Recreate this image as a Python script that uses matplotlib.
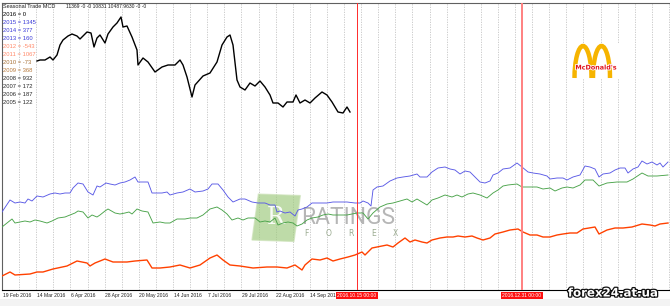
"""
Seasonal Trade MCD chart (MT4 style) redrawn with matplotlib.
"""
import matplotlib

matplotlib.use("Agg")
import matplotlib.pyplot as plt
from matplotlib import patheffects, transforms
from matplotlib.patches import Arc, Rectangle

W, H = 670, 306

# trading-day index (2 bars per grid step of 8.55 days) and seasonal index values
BLUE_DAY = [0, 4, 6.5, 9, 11.5, 13, 15, 17.5, 20.5, 24, 26.5, 29, 31.5, 34, 35.5, 38, 40.5, 43,
            45.5, 47.5, 49, 52, 54, 56.5, 59, 61.5, 64, 66.5, 68, 70.5, 73, 75, 77.5, 80, 82.5,
            84, 87.5, 90.5, 94, 96.5, 100.5, 103, 105, 108, 110.5, 113, 115.5, 119, 121.5, 125,
            128, 131.5, 134, 136.5, 137.5, 139, 141.5, 144, 146.5, 148, 150, 152.5, 155, 157.5,
            160, 162.5, 165.5, 169, 172.5, 176.5, 179, 180.5, 183, 184.5, 185.5, 187.5, 190.5,
            194, 197.5, 200.5, 204, 207.5, 209, 212.5, 215, 218, 221.5, 224, 226.5, 229, 231.5,
            234, 236.5, 239, 241.5, 244, 245.5, 248, 250.5, 254, 257.5, 260, 263, 265.5, 269,
            272.5, 274, 277.5, 280.5, 282.5, 285.5, 289, 291.5, 294, 296.5, 298.5, 300.5, 304,
            306.5, 309, 311.5, 313, 315.5, 318, 320, 322.5, 325, 327.5, 329, 330.5, 333]
BLUE_VAL = [78, 90, 87, 88, 87, 91, 89, 94, 93, 96, 97, 96, 97, 97, 102, 107, 106, 98, 95, 104,
            103, 107, 106, 105, 107, 108, 110, 113, 108, 108, 108, 97, 97, 97, 98, 95, 97, 98,
            101, 98, 99, 101, 106, 106, 100, 93, 88, 91, 91, 88, 87, 87, 85, 85, 78, 79, 77, 78,
            74, 80, 81, 83, 87, 87, 87, 87, 88, 88, 88, 87, 87, 89, 87, 84, 100, 103, 104, 109,
            112, 113, 114, 116, 113, 113, 118, 122, 123, 121, 120, 116, 119, 118, 113, 108, 107,
            109, 115, 117, 121, 122, 127, 123, 118, 117, 116, 114, 111, 112, 112, 110, 113, 115,
            124, 123, 121, 113, 116, 117, 120, 122, 122, 117, 121, 123, 129, 126, 128, 125, 127,
            123, 128]

GREEN_DAY = [0, 2.5, 5, 6.5, 9, 11.5, 14, 16.5, 19, 22.5, 25, 28, 31.5, 34, 36.5, 38, 40.5, 43,
             45, 47.5, 49, 51.5, 53, 56.5, 59, 61.5, 63.5, 65, 67.5, 70, 73, 75.5, 79, 81.5, 84,
             87.5, 91.5, 94, 97.5, 100.5, 104, 107.5, 110, 112.5, 115, 118, 120.5, 123, 126.5,
             129, 131.5, 134, 136.5, 138, 140.5, 143, 145.5, 147.5, 150, 152.5, 155, 158, 160.5,
             163, 165.5, 169, 172.5, 177.5, 180.5, 183, 185.5, 189, 192.5, 195.5, 199, 202.5,
             205, 207.5, 210, 212.5, 215, 218, 221.5, 225, 227.5, 230, 233, 235.5, 239, 242.5,
             245.5, 248, 250.5, 253, 257.5, 260, 264, 267.5, 270.5, 274, 276.5, 280, 282.5, 285.5,
             289, 291.5, 295.5, 298.5, 302.5, 307.5, 312.5, 315.5, 320, 323, 327.5, 333]
GREEN_VAL = [63, 67, 71, 67, 68, 69, 68, 70, 69, 67, 69, 72, 73, 75, 77, 79, 78, 72, 75, 73, 75,
             79, 81, 77, 76, 77, 78, 76, 81, 79, 78, 67, 68, 67, 67, 71, 71, 72, 72, 75, 81, 83,
             80, 76, 70, 72, 70, 72, 72, 68, 69, 68, 72, 65, 67, 68, 67, 64, 66, 70, 72, 73, 75,
             76, 75, 75, 75, 77, 77, 71, 77, 83, 86, 87, 89, 91, 88, 91, 88, 85, 90, 92, 95, 93,
             95, 93, 96, 97, 95, 92, 97, 100, 104, 105, 106, 103, 103, 103, 101, 102, 99, 102,
             103, 102, 105, 110, 110, 104, 107, 108, 108, 111, 117, 114, 114, 115]

ORANGE_DAY = [0, 4, 6.5, 14, 17.5, 20.5, 25.5, 32.5, 37.5, 42.5, 44, 46.5, 51.5, 55.5, 62.5,
              66.5, 72.5, 75, 79, 84, 89, 94, 99, 104, 107.5, 110.5, 114, 119, 125.5, 132.5,
              137.5, 142.5, 146.5, 150, 151.5, 155, 159, 162.5, 165.5, 169, 173, 176.5, 180,
              181.5, 185, 187.5, 192.5, 195.5, 198, 201.5, 204, 206.5, 210, 212.5, 215, 219,
              222.5, 225.5, 228, 231.5, 235, 237.5, 240.5, 244, 246.5, 250.5, 254, 258, 260.5,
              264, 267.5, 270.5, 274, 277.5, 280.5, 284, 287.5, 290.5, 296.5, 298.5, 302.5,
              306.5, 310.5, 315, 320, 324, 326.5, 329, 333]
ORANGE_VAL = [14, 18, 15, 16, 18, 18, 21, 24, 29, 27, 24, 27, 31, 28, 28, 29, 30, 22, 22, 23,
              25, 22, 25, 32, 35, 30, 25, 24, 22, 23, 23, 22, 25, 20, 25, 31, 30, 32, 29, 31,
              33, 35, 38, 35, 42, 43, 45, 43, 47, 52, 48, 50, 48, 47, 50, 52, 53, 53, 54, 53,
              54, 52, 50, 52, 56, 58, 60, 61, 58, 55, 55, 53, 53, 55, 56, 57, 57, 61, 63, 56,
              60, 62, 62, 63, 66, 65, 64, 66, 67]

BLACK_DAY = [17.5, 19, 21.5, 24, 25.5, 27.5, 29, 30.5, 33, 35, 37.5, 39, 40.5, 42.5, 44.5, 46,
             47.5, 49, 51.5, 53, 55.5, 57.5, 59.5, 60.5, 62.5, 65, 67.5, 68, 70.5, 73, 76.5, 80,
             83, 86.5, 89, 90.5, 92.5, 95, 96.5, 100.5, 104, 107.5, 110, 112.5, 114, 115.5,
             117.5, 119, 121.5, 124, 126.5, 129, 131.5, 134, 135.5, 138, 140.5, 142.5, 145.5,
             147, 149, 151.5, 154, 156.5, 160, 162.5, 165, 168, 170.5, 172.5, 174]
BLACK_VAL = [229, 230, 230, 233, 230, 235, 245, 250, 254, 256, 254, 251, 254, 258, 257, 243,
             252, 255, 247, 256, 263, 267, 273, 263, 264, 253, 240, 225, 232, 228, 218, 223,
             225, 225, 230, 225, 213, 193, 205, 214, 217, 228, 245, 253, 255, 245, 210, 203,
             200, 207, 204, 209, 203, 195, 187, 187, 183, 188, 188, 195, 187, 190, 187, 192,
             198, 195, 188, 178, 177, 183, 178]

TICK_LABELS = ["19 Feb 2016", "14 Mar 2016", "6 Apr 2016", "28 Apr 2016", "20 May 2016",
               "14 Jun 2016", "7 Jul 2016", "29 Jul 2016", "22 Aug 2016", "14 Sep 2016"]
GRID_STEP = 8.55
MARKER_DAYS = [177.5, 260]
MARKER_LABELS = ["2016.10.15 00:00", "2016.12.31 00:00"]

LEGEND_YEARS = [2016, 2015, 2014, 2013, 2012, 2011, 2010, 2009, 2008, 2007, 2006, 2005]
LEGEND_VALUES = [0, 1345, 377, 160, -543, 1067, -73, 368, 932, 172, 187, 122]
LEGEND_COLORS = ["#000000", "#3a3ad8", "#3a3ad8", "#3a3ad8", "#ff8a6a", "#ff8a6a",
                 "#a87238", "#b87a3c", "#2a2a2a", "#2a2a2a", "#2a2a2a", "#2a2a2a"]
HEADER = "11369 -0 -0 10831 10487 9630 -0 -0"


def px(x, y):
    """pixel position (from top-left) to figure fraction"""
    return x / W, 1 - y / H


def main():
    fig = plt.figure(figsize=(W / 100, H / 100), dpi=100)
    fig.patch.set_facecolor("white")
    fig.patches.append(Rectangle((0, 0), 1, 7 / H, transform=fig.transFigure,
                                 facecolor="#f3f3f3", edgecolor="none", zorder=0))

    ax = fig.add_axes([1.5 / W, 16 / H, 668.5 / W, 287 / H])
    ax.set_xlim(-0.25, 334)
    ax.set_ylim(0, 287)
    ax.set_xticks([])
    ax.set_yticks([])
    for side in ("right",):
        ax.spines[side].set_visible(False)
    ax.spines["top"].set_color("#606060")
    ax.spines["left"].set_color("#606060")
    ax.spines["bottom"].set_color("#000000")
    for s in ax.spines.values():
        s.set_linewidth(0.8)

    k = 1
    while k * GRID_STEP < 334:
        ax.axvline(k * GRID_STEP, color="#c4c4c4", lw=0.6, ls=(0, (1.5, 1.5)), zorder=1)
        k += 1

    # watermarks
    logo = Rectangle((125, 50), 21, 46, angle=-4, facecolor="#9cc97a", edgecolor="#c9e0b4",
                     alpha=0.65, lw=1, zorder=2)
    ax.add_patch(logo)
    ax.text(137, 73, "R", color="white", fontsize=17, family="DejaVu Serif", ha="center",
            va="center", alpha=0.9, zorder=2)
    ax.text(149.5, 72, "RATINGS", color="#a9a9a9", fontsize=16.5, family="Roboto",
            ha="left", va="center", alpha=0.85, zorder=2)
    for i, ch in enumerate("FOREX"):
        ax.text(152 + i * 11.2, 56, ch, color="#9aaa90", fontsize=5.5, ha="center",
                va="center", zorder=2)

    fig.patches.append(Rectangle(px(572, 78), 48 / W, 35 / H, transform=fig.transFigure,
                                 facecolor="white", edgecolor="none", zorder=3))
    for cx in (583, 601.5):
        fig.patches.append(Arc(px(cx, 78), 17 / W, 64 / H, theta1=0, theta2=180,
                               transform=fig.transFigure, color="#f6b400", lw=3.2, zorder=4))
    fig.text(*px(596, 68), "McDonald's", color="#e0141e", fontsize=4.6, weight="bold",
             ha="center", va="center", zorder=5,
             path_effects=[patheffects.withStroke(linewidth=1.2, foreground="white")])

    ax.plot(BLUE_DAY, BLUE_VAL, color="#5a5ae6", lw=0.65, zorder=5)
    ax.plot(GREEN_DAY, GREEN_VAL, color="#4aa34a", lw=0.65, zorder=5)
    ax.plot(ORANGE_DAY, ORANGE_VAL, color="#ff4100", lw=1.0, zorder=5)
    ax.plot(BLACK_DAY, BLACK_VAL, color="#000000", lw=1.0, zorder=5)

    ax.axvline(MARKER_DAYS[0], color="#ff2a2a", lw=0.7, zorder=6)
    ax.axvline(MARKER_DAYS[1], color="#ff8080", lw=1.4, zorder=6)

    trans = transforms.blended_transform_factory(ax.transData, ax.transAxes)
    for i, label in enumerate(TICK_LABELS):
        ax.text(i * 2 * GRID_STEP + 0.3, -0.012, label, transform=trans, fontsize=3.6,
                family="Liberation Sans", ha="left", va="top", color="#202020", clip_on=False)
    for d, label in zip(MARKER_DAYS, MARKER_LABELS):
        ax.text(d, -0.012, label, transform=trans, fontsize=3.6, family="Liberation Sans",
                ha="center", va="top", color="white", clip_on=False,
                bbox=dict(facecolor="#ff1010", edgecolor="none", pad=0.9))

    # legend block
    fig.text(*px(3, 6), "Seasonal Trade MCD", fontsize=4.0, family="Liberation Sans",
             va="center", color="#202020")
    fig.text(*px(66, 6), HEADER, fontsize=3.6, family="Liberation Sans", va="center",
             color="#202020")
    for i, (yr, val, col) in enumerate(zip(LEGEND_YEARS, LEGEND_VALUES, LEGEND_COLORS)):
        fig.text(*px(3, 15 + i * 7.95), f"{yr} = {val}", fontsize=4.2,
                 family="Liberation Sans", va="center", color=col)

    fig.text(*px(613, 293), "forex24.at.ua", fontsize=8.5, weight="bold", color="white",
             ha="center", va="center", zorder=10,
             path_effects=[patheffects.withStroke(linewidth=1.8, foreground="#111111")])

    fig.savefig("out.png", dpi=100)
    plt.close(fig)


if __name__ == "__main__":
    main()
